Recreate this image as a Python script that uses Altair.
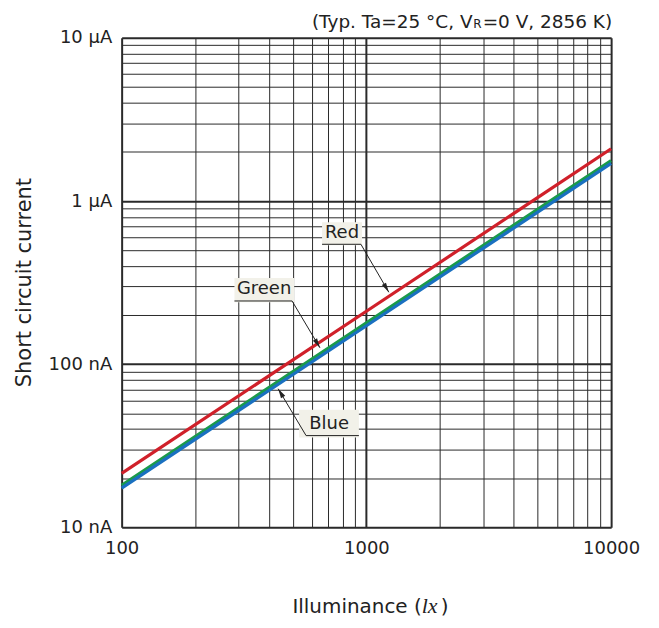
import altair as alt
import pandas as pd

# ---- data ----
lux = [100, 1000, 10000]
red_nA = [21.4, 211, 2090]
green_nA = [18.1, 179, 1770]
blue_nA = [17.4, 172, 1700]
series = ["Red", "Green", "Blue"]
colors = ["#d0202a", "#1a9a4a", "#1a70c0"]
widths = [3.2, 3.2, 4]

x_ticks = [100, 200, 300, 400, 500, 600, 700, 800, 900,
           1000, 2000, 3000, 4000, 5000, 6000, 7000, 8000, 9000, 10000]
y_ticks = [10, 20, 30, 40, 50, 60, 70, 80, 90,
           100, 200, 300, 400, 500, 600, 700, 800, 900,
           1000, 2000, 3000, 4000, 5000, 6000, 7000, 8000, 9000, 10000]

# callout annotations (data units: lux, nA)
lab_text = ["Red", "Green", "Blue"]
lab_x = [795, 382, 704]
lab_y = [634, 288, 43.2]
box_x1 = [659, 289, 531]
box_x2 = [960, 507, 932]
box_y1 = [536, 240, 35.5]
box_y2 = [740, 337, 52.6]
seg_x1 = [659, 950, 289, 497, 567, 567]
seg_y1 = [543, 543, 244, 244, 36.5, 36.5]
seg_x2 = [950, 1235, 497, 646, 932, 436]
seg_y2 = [543, 276, 244, 126, 36.5, 70.7]
tip_x = [1235, 646, 436]
tip_y = [276, 126, 70.7]
tip_angle = [149.7, 149.2, 329.2]

BG = "#f2f1e9"
INK = "#222222"
FONT = "DejaVu Sans"
W, H = 491, 491

rows = []
for name, vals in zip(series, [red_nA, green_nA, blue_nA]):
    for lx, v in zip(lux, vals):
        rows.append({"lux": lx, "I": v, "series": name})
df = pd.DataFrame(rows)

major_x = "indexof([100,1000,10000], datum.value) >= 0"
major_y = "indexof([10,100,1000,10000], datum.value) >= 0"

xscale = alt.Scale(type="log", domain=[100, 10000], nice=False)
yscale = alt.Scale(type="log", domain=[10, 10000], nice=False)

xaxis = alt.Axis(
    values=x_ticks, ticks=False, domain=False, labelOverlap=False, labelFlush=False,
    labelExpr=f"{major_x} ? format(datum.value, 'd') : ''",
    labelFont=FONT, labelFontSize=18, labelColor=INK, labelPadding=12,
    gridColor="#2a2a2a",
    gridWidth={"condition": {"test": major_x, "value": 2}, "value": 1},
    title=None,
)
yaxis = alt.Axis(
    values=y_ticks, ticks=False, domain=False, labelOverlap=False, labelFlush=False,
    labelExpr=("datum.value == 10 ? '10 nA' : datum.value == 100 ? '100 nA' : "
               "datum.value == 1000 ? '1 µA' : datum.value == 10000 ? '10 µA' : ''"),
    labelFont=FONT, labelFontSize=18, labelColor=INK, labelPadding=10,
    gridColor="#2a2a2a",
    gridWidth={"condition": {"test": major_y, "value": 2}, "value": 1},
    title="Short circuit current", titleFont=FONT, titleFontSize=21,
    titleFontWeight="normal", titleColor=INK,
    titleX=-97, titleY=245, titleAngle=270, titleAlign="center", titleBaseline="middle",
)

lines = alt.Chart(df).mark_line().encode(
    x=alt.X("lux:Q", scale=xscale, axis=xaxis),
    y=alt.Y("I:Q", scale=yscale, axis=yaxis),
    color=alt.Color("series:N", scale=alt.Scale(domain=series, range=colors), legend=None),
    strokeWidth=alt.StrokeWidth("series:N", scale=alt.Scale(domain=series, range=widths), legend=None),
)

boxes = alt.Chart(pd.DataFrame({"x1": box_x1, "x2": box_x2, "y1": box_y1, "y2": box_y2})).mark_rect(
    fill=BG
).encode(
    x=alt.X("x1:Q", scale=xscale), x2="x2:Q",
    y=alt.Y("y1:Q", scale=yscale), y2="y2:Q",
)

labels = alt.Chart(pd.DataFrame({"x": lab_x, "y": lab_y, "t": lab_text})).mark_text(
    font=FONT, fontSize=18, color=INK, align="center", baseline="middle"
).encode(
    x=alt.X("x:Q", scale=xscale), y=alt.Y("y:Q", scale=yscale), text="t:N"
)

segs = alt.Chart(pd.DataFrame({"x1": seg_x1, "y1": seg_y1, "x2": seg_x2, "y2": seg_y2})).mark_rule(
    color=INK, strokeWidth=1
).encode(
    x=alt.X("x1:Q", scale=xscale), x2="x2:Q",
    y=alt.Y("y1:Q", scale=yscale), y2="y2:Q",
)

tips = alt.Chart(pd.DataFrame({"x": tip_x, "y": tip_y, "a": tip_angle})).mark_point(
    shape="M0,0L-0.25,1L0.25,1Z", filled=True, fill=INK, size=380, opacity=1
).encode(
    x=alt.X("x:Q", scale=xscale), y=alt.Y("y:Q", scale=yscale),
    angle=alt.Angle("a:Q", scale=None),
)

# header and x title text (placed around the plot area)
hdr = pd.DataFrame({"t": ["x"]})
h1 = alt.Chart(hdr).mark_text(font=FONT, fontSize=18.5, color=INK, align="right", baseline="alphabetic",
                              text="(Typ. Ta=25 °C, V").encode(x=alt.value(352), y=alt.value(-10))
h2 = alt.Chart(hdr).mark_text(font=FONT, fontSize=12, color=INK, align="right", baseline="alphabetic",
                              text="R").encode(x=alt.value(361), y=alt.value(-10))
h3 = alt.Chart(hdr).mark_text(font=FONT, fontSize=18.5, color=INK, align="right", baseline="alphabetic",
                              text="=0 V, 2856 K)").encode(x=alt.value(492), y=alt.value(-10))
t1 = alt.Chart(hdr).mark_text(font=FONT, fontSize=20, color=INK, align="right", baseline="alphabetic",
                              text="Illuminance (").encode(x=alt.value(301), y=alt.value(577))
t2 = alt.Chart(hdr).mark_text(font="Liberation Serif", fontSize=22, fontStyle="italic", color=INK,
                              align="left", baseline="alphabetic",
                              text="lx").encode(x=alt.value(301), y=alt.value(577))
t3 = alt.Chart(hdr).mark_text(font=FONT, fontSize=20, color=INK, align="left", baseline="alphabetic",
                              text=")").encode(x=alt.value(320), y=alt.value(577))

chart = alt.layer(lines, boxes, segs, tips, labels, h1, h2, h3, t1, t2, t3).properties(
    width=W, height=H,
    autosize=alt.AutoSizeParams(type="none"),
    padding={"left": 114, "top": 29, "right": 40, "bottom": 93},
).configure_view(
    fill=BG, stroke="#333333", strokeWidth=3
).configure(background="white")

chart.save("out.html", embed_options={"renderer": "svg", "actions": False})
